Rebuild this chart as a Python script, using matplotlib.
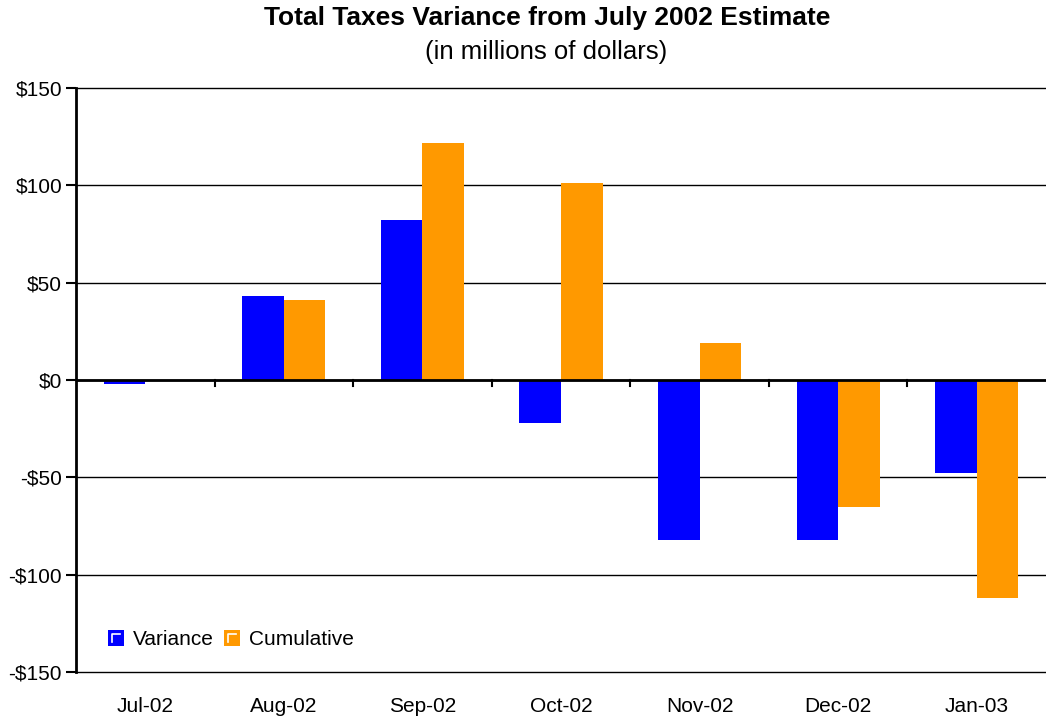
import matplotlib.pyplot as plt
import numpy as np
from matplotlib.patches import Patch, Rectangle
from matplotlib.lines import Line2D
from matplotlib.legend_handler import HandlerBase

plt.rcParams['font.family'] = ['Liberation Sans', 'DejaVu Sans']

months = ["Jul-02", "Aug-02", "Sep-02", "Oct-02", "Nov-02", "Dec-02", "Jan-03"]
variance = [-2, 43, 82, -22, -82, -82, -48]
cumulative = [0, 41, 122, 101, 19, -65, -112]

blue = "#0000ff"
orange = "#ff9900"


class BoxHandler(HandlerBase):
    # small square key with a white inner corner
    def create_artists(self, legend, orig_handle, xdescent, ydescent,
                       width, height, fontsize, trans):
        s = min(width, height)
        x0 = -xdescent + (width - s) / 2
        y0 = -ydescent + (height - s) / 2
        box = Rectangle((x0, y0), s, s, facecolor=orig_handle.get_facecolor(),
                        edgecolor="none", transform=trans)
        d = s * 0.25
        corner = Line2D([x0 + d, x0 + d, x0 + s - d], [y0 + d, y0 + s - d, y0 + s - d],
                        color="white", linewidth=1.2, transform=trans)
        return [box, corner]


fig = plt.figure(figsize=(10.46, 7.16), dpi=100)
ax = fig.add_axes([76 / 1046, 1 - 672 / 716, 1 - 76 / 1046, (672 - 88) / 716])

x = np.arange(len(months))
w = 0.3
ax.bar(x - w / 2, variance, w, color=blue, zorder=3)
ax.bar(x + w / 2, cumulative, w, color=orange, zorder=3)

ax.set_xlim(-0.5, len(months) - 0.5)
ax.set_ylim(-150, 150)
yt = np.arange(-150, 151, 50)
ax.set_yticks(yt)
ax.set_yticklabels(["-$%d" % -v if v < 0 else "$%d" % v for v in yt])
for v in yt:
    ax.axhline(v, color="black", linewidth=1, zorder=1, clip_on=False)

# zero line with ticks at category boundaries
ax.axhline(0, color="black", linewidth=2, zorder=4)
for b in np.arange(0.5, len(months) - 0.5, 1):
    ax.plot([b, b], [0, -3], color="black", linewidth=1.5, zorder=4, clip_on=False)

ax.set_xticks(x)
ax.set_xticklabels(months)
ax.tick_params(axis="x", length=0, pad=18, labelsize=15)
ax.tick_params(axis="y", length=7, width=1.5, direction="out", labelsize=15, pad=3)

for s in ["top", "right", "bottom"]:
    ax.spines[s].set_visible(False)
ax.spines["left"].set_linewidth(2)

handles = [Patch(color=blue, label="Variance"), Patch(color=orange, label="Cumulative")]
ax.legend(handles=handles, loc="center left", bbox_to_anchor=(0.022, 0.055), ncol=2,
          frameon=False, fontsize=15, handlelength=0.8, handleheight=0.8,
          handletextpad=0.4, columnspacing=0.5, borderpad=0,
          handler_map={Patch: BoxHandler()})

fig.text(0.523, 0.975, "Total Taxes Variance from July 2002 Estimate",
         ha="center", va="center", fontsize=19, fontweight="bold")
fig.text(0.522, 0.927, "(in millions of dollars)", ha="center", va="center", fontsize=18.5)

fig.savefig("out.png", dpi=100)
